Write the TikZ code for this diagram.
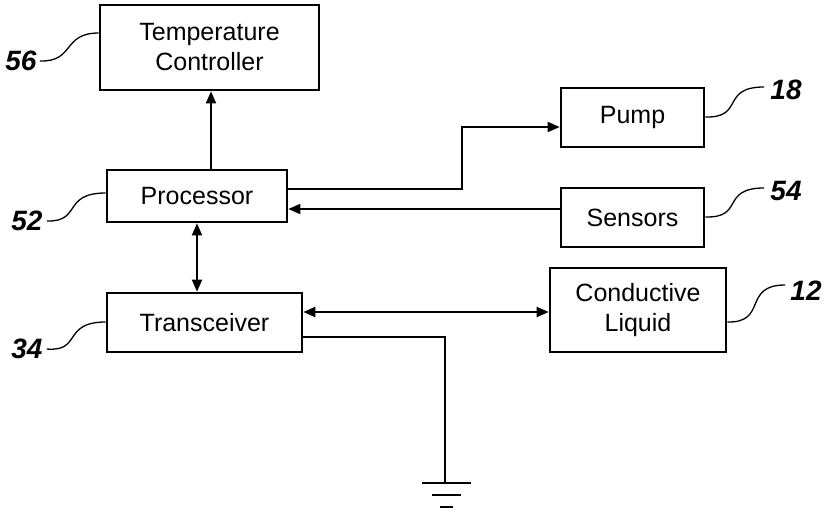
\documentclass[tikz,border=0pt]{standalone}
\usepackage{fontspec}
\setmainfont{Liberation Sans}
\usetikzlibrary{arrows.meta}
\begin{document}
\begin{tikzpicture}[x=1pt,y=-1pt,
  blockbox/.style={draw, line width=2.6pt, minimum width=#1, align=center, inner sep=0pt, font=\fontsize{25}{30}\selectfont},
  conn/.style={line width=1.8pt},
  arr/.style={conn, -{Triangle[length=12pt,width=10pt]}},
  darr/.style={conn, {Triangle[length=12pt,width=10pt]}-{Triangle[length=12pt,width=10pt]}},
  refnum/.style={font=\fontsize{28}{30}\bfseries\itshape\selectfont, inner sep=0pt},
  leader/.style={line width=1.3pt},
  gnd/.style={line width=2.8pt}]
\useasboundingbox (0,0) rectangle (825,512);

% blocks
\node[blockbox=219pt, minimum height=85pt] (tc) at (209.5,47.5) {Temperature\\Controller};
\node[blockbox=180pt, minimum height=52pt] (proc) at (197,196) {Processor};
\node[blockbox=195pt, minimum height=59pt] (trans) at (204.5,322.5) {Transceiver};
\node[blockbox=143pt, minimum height=59pt] (pump) at (632.5,117.5) {Pump};
\node[blockbox=143pt, minimum height=59pt] (sens) at (632.5,217.5) {Sensors};
\node[blockbox=176pt, minimum height=84pt] (cl) at (638,310) {Conductive\\Liquid};

% reference numerals
\node[refnum] (n56) at (21,61) {56};
\node[refnum] (n52) at (27,221) {52};
\node[refnum] (n34) at (27,349) {34};
\node[refnum] (n18) at (786,90) {18};
\node[refnum] (n54) at (786,191) {54};
\node[refnum] (n12) at (806,291) {12};

% helper coordinates
\coordinate (xtc) at (211,0);
\coordinate (ypo) at (0,189);
\coordinate (ypu) at (0,127);
\coordinate (xbend) at (462,0);
\coordinate (yse) at (0,209);
\coordinate (ycl) at (0,312);
\coordinate (ygl) at (0,337);
\coordinate (xg) at (445,0);
\coordinate (gtop) at (445,483);

% connectors
\draw[arr] (proc.north -| xtc) -- (tc.south -| xtc);
\draw[darr] (proc.south) -- (trans.north -| proc.south);
\draw[arr] (proc.east |- ypo) -- (xbend |- ypo) -- (xbend |- ypu) -- (pump.west |- ypu);
\draw[arr] (sens.west |- yse) -- (proc.east |- yse);
\draw[darr] (trans.east |- ycl) -- (cl.west |- ycl);
\draw[conn] (trans.east |- ygl) -- (xg |- ygl) -- (gtop);

% ground symbol
\draw[gnd] ([xshift=-23pt]gtop) -- ([xshift=26pt]gtop);
\draw[gnd] ([xshift=-13pt,yshift=-12pt]gtop) -- ([xshift=16pt,yshift=-12pt]gtop);
\draw[gnd] ([xshift=-5pt,yshift=-24pt]gtop) -- ([xshift=8pt,yshift=-24pt]gtop);

% leader lines
\draw[leader] ([xshift=3pt]n56.east) .. controls (75,62) and (62,33) .. (tc.west |- 0,33);
\draw[leader] ([xshift=4pt]n52.east) .. controls (82,222) and (62,193) .. (proc.west |- 0,193);
\draw[leader] ([xshift=4pt]n34.east) .. controls (82,352) and (62,322) .. (trans.west |- 0,322);
\draw[leader] (pump.east |- 0,117) .. controls (745,118) and (720,87) .. ([xshift=-6pt]n18.west |- 0,87);
\draw[leader] (sens.east |- 0,217) .. controls (745,218) and (720,188) .. ([xshift=-6pt]n54.west |- 0,188);
\draw[leader] (cl.east |- 0,322) .. controls (768,323) and (742,285) .. ([xshift=-5pt]n12.west |- 0,285);
\end{tikzpicture}
\end{document}
